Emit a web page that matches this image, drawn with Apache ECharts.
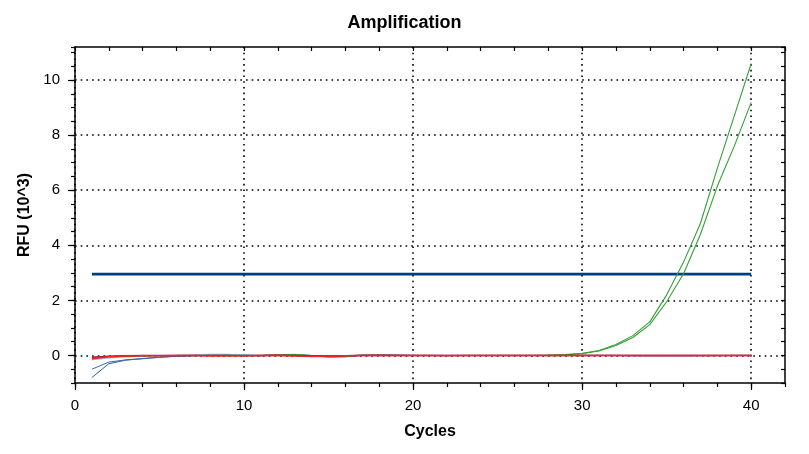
<!DOCTYPE html>
<html>
<head>
<meta charset="utf-8">
<title>Amplification</title>
<script src="https://cdn.jsdelivr.net/npm/echarts@6.0.0/dist/echarts.min.js"></script>
<style>
  html, body { margin: 0; padding: 0; background: #fff; }
</style>
</head>
<body>
<!-- 图表容器 -->
<div id="main" style="width: 809px;height:454px;"></div>
<script type="text/javascript">
    // 数据：循环数
    var cycles = [1, 2, 3, 4, 5, 6, 7, 8, 9, 10,
                  11, 12, 13, 14, 15, 16, 17, 18, 19, 20,
                  21, 22, 23, 24, 25, 26, 27, 28, 29, 30,
                  31, 32, 33, 34, 35, 36, 37, 38, 39, 40];

    // RFU (10^3) 各孔曲线
    var green1 = [-0.08, -0.04, -0.02, -0.01, 0.00, 0.00, 0.00, 0.01, 0.01, 0.00,
                  0.00, 0.02, 0.02, 0.00, -0.02, -0.02, 0.01, 0.01, 0.00, 0.00,
                  0.00, 0.00, 0.00, 0.00, 0.00, 0.00, 0.00, 0.01, 0.03, 0.08,
                  0.18, 0.40, 0.72, 1.22, 2.20, 3.39, 4.80, 6.80, 8.70, 10.60];
    var green2 = [-0.10, -0.05, -0.03, -0.01, 0.00, 0.00, 0.00, 0.00, 0.01, 0.00,
                  -0.01, 0.01, 0.02, 0.00, -0.03, -0.02, 0.00, 0.01, 0.00, 0.00,
                  0.00, 0.00, 0.00, 0.00, 0.00, 0.00, 0.00, 0.01, 0.02, 0.06,
                  0.16, 0.36, 0.65, 1.12, 1.95, 2.97, 4.40, 6.15, 7.60, 9.19];
    var red1 = [-0.12, -0.05, -0.02, -0.01, -0.01, 0.00, 0.00, -0.02, -0.02, -0.01,
                0.00, 0.00, -0.02, -0.04, -0.03, -0.01, 0.00, 0.00, 0.00, 0.00,
                0.00, -0.01, 0.00, 0.00, 0.00, 0.00, 0.00, 0.00, 0.00, 0.00,
                0.00, 0.00, 0.00, 0.00, 0.00, 0.00, 0.00, 0.00, 0.00, 0.00];
    var maroon1 = [-0.06, -0.03, -0.01, 0.00, 0.00, 0.00, 0.00, 0.00, 0.00, -0.01,
                   0.00, 0.01, 0.00, -0.02, -0.02, -0.01, 0.00, 0.01, 0.00, 0.00,
                   0.00, 0.00, 0.00, 0.00, 0.00, 0.00, 0.00, 0.00, 0.00, 0.00,
                   0.00, 0.00, 0.00, 0.00, 0.00, 0.00, 0.00, 0.00, 0.00, 0.00];
    var blue1 = [-0.50, -0.24, -0.16, -0.11, -0.06, -0.03, -0.01, 0.01, 0.03, 0.02,
                 0.00, 0.03, 0.04, 0.00, -0.05, -0.04, 0.02, 0.03, 0.01, 0.00,
                 0.00, 0.00, 0.00, 0.00, 0.00, 0.00, 0.00, 0.00, 0.00, 0.00,
                 0.00, 0.00, 0.00, 0.00, 0.00, 0.00, 0.00, 0.00, 0.00, 0.00];
    var blue2 = [-0.80, -0.30, -0.17, -0.12, -0.07, -0.03, -0.01, 0.00, 0.02, 0.01,
                 -0.01, 0.03, 0.03, -0.02, -0.06, -0.05, 0.01, 0.03, 0.02, 0.00,
                 0.00, 0.00, 0.00, 0.00, 0.00, 0.00, 0.00, 0.00, 0.00, 0.00,
                 0.00, 0.00, 0.00, 0.00, 0.00, 0.00, 0.00, 0.00, 0.00, 0.00];
    var lightBlue1 = [-0.15, -0.09, -0.05, -0.02, -0.01, 0.00, 0.02, 0.04, 0.04, 0.01,
                      0.00, 0.02, 0.02, -0.01, -0.03, -0.02, 0.02, 0.02, 0.01, 0.00,
                      0.00, 0.00, 0.00, 0.00, 0.00, 0.00, 0.00, 0.00, 0.00, 0.00,
                      0.00, 0.00, -0.02, -0.03, -0.03, -0.03, -0.02, -0.01, 0.00, 0.00];

    // 阈值线
    var thresholdValue = 2.95;
    var thresholdCycles = [1, 40];

    // 刻度标签
    var xTickLabels = [0, 10, 20, 30, 40];
    var yTickLabels = [0, 2, 4, 6, 8, 10];

    var xMin = 0, xMax = 42;
    var yMin = -1, yMax = 11.2;

    var fontFamily = 'Liberation Sans, Arial, sans-serif';
    var dotted = { color: '#000', width: 1.6, type: [1.6, 4.1] };

    function pairs(values) {
        var out = [];
        for (var i = 0; i < cycles.length; i++) {
            out.push([cycles[i], values[i]]);
        }
        return out;
    }

    function lineSeries(name, values, color, width) {
        return {
            name: name,
            type: 'line',
            data: pairs(values),
            showSymbol: false,
            symbol: 'none',
            smooth: false,
            silent: true,
            lineStyle: { color: color, width: width }
        };
    }

    var myChart = echarts.init(document.getElementById('main'));

    var option = {
        backgroundColor: '#fff',
        animation: false,
        title: {
            text: 'Amplification',
            left: 'center',
            top: 9,
            textStyle: { fontFamily: fontFamily, fontSize: 18, fontWeight: 'bold', color: '#000' }
        },
        grid: { left: 75, right: 24, top: 47, bottom: 71 },
        xAxis: [
            // 主刻度 + 标签 + 网格
            {
                type: 'value', position: 'bottom', min: xMin, max: xMax,
                name: 'Cycles', nameLocation: 'middle', nameGap: 41,
                nameTextStyle: { fontFamily: fontFamily, fontSize: 16, fontWeight: 'bold', color: '#000' },
                axisLine: { show: true, onZero: false, lineStyle: { color: '#000', width: 1.5 } },
                axisTick: { show: true, inside: false, length: 7, customValues: xTickLabels,
                            lineStyle: { color: '#000', width: 1.2 } },
                axisLabel: { show: true, margin: 15, customValues: xTickLabels,
                             fontFamily: fontFamily, fontSize: 15, color: '#000' },
                splitLine: { show: true, lineStyle: dotted }
            },
            // 次刻度
            {
                type: 'value', position: 'bottom', min: xMin, max: xMax, interval: 2,
                axisLine: { show: false, onZero: false },
                axisTick: { show: true, inside: false, length: 4, lineStyle: { color: '#000', width: 1.2 } },
                axisLabel: { show: false },
                splitLine: { show: false }
            },
            // 顶边框
            {
                type: 'value', position: 'top', min: xMin, max: xMax, interval: 2,
                axisLine: { show: true, onZero: false, lineStyle: { color: '#000', width: 1.5 } },
                axisTick: { show: true, inside: true, length: 4, lineStyle: { color: '#000', width: 1.2 } },
                axisLabel: { show: false },
                splitLine: { show: false }
            }
        ],
        yAxis: [
            {
                type: 'value', position: 'left', min: yMin, max: yMax,
                name: 'RFU (10^3)', nameLocation: 'middle', nameGap: 42,
                nameTextStyle: { fontFamily: fontFamily, fontSize: 16, fontWeight: 'bold', color: '#000' },
                axisLine: { show: true, onZero: false, lineStyle: { color: '#000', width: 1.5 } },
                axisTick: { show: true, inside: false, length: 7, customValues: yTickLabels,
                            lineStyle: { color: '#000', width: 1.2 } },
                axisLabel: { show: true, margin: 15, customValues: yTickLabels,
                             fontFamily: fontFamily, fontSize: 15, color: '#000' },
                splitLine: { show: true, lineStyle: dotted }
            },
            {
                type: 'value', position: 'left', min: yMin, max: yMax, interval: 0.5,
                axisLine: { show: false, onZero: false },
                axisTick: { show: true, inside: false, length: 4, lineStyle: { color: '#000', width: 1.2 } },
                axisLabel: { show: false },
                splitLine: { show: false }
            },
            // 右边框
            {
                type: 'value', position: 'right', min: yMin, max: yMax, interval: 0.5,
                axisLine: { show: true, onZero: false, lineStyle: { color: '#000', width: 1.5 } },
                axisTick: { show: true, inside: true, length: 4, lineStyle: { color: '#000', width: 1.2 } },
                axisLabel: { show: false },
                splitLine: { show: false }
            }
        ],
        series: [
            lineSeries('B2', blue2, '#2f5f9e', 1),
            lineSeries('B1', blue1, '#3a6aab', 1),
            lineSeries('LB1', lightBlue1, '#9fb2d0', 1.2),
            {
                name: 'Threshold',
                type: 'line',
                data: [[thresholdCycles[0], thresholdValue], [thresholdCycles[1], thresholdValue]],
                showSymbol: false,
                symbol: 'none',
                silent: true,
                lineStyle: { color: '#003f7d', width: 2.8 }
            },
            lineSeries('G2', green2, '#33a033', 1.1),
            lineSeries('G1', green1, '#33a033', 1.1),
            lineSeries('M1', maroon1, '#a31d3d', 1.4),
            lineSeries('R1', red1, '#f02424', 1.5)
        ]
    };

    myChart.setOption(option);
</script>
</body>
</html>
